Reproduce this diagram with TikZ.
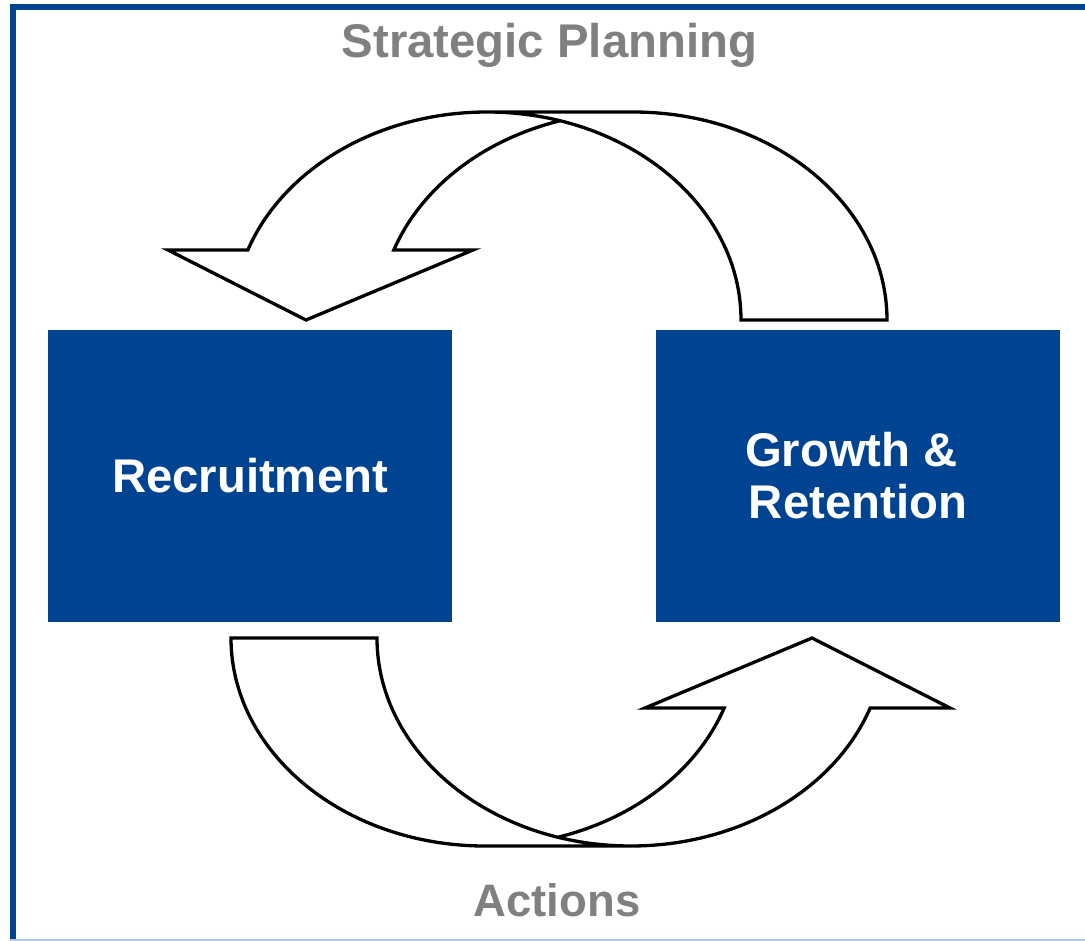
\documentclass[tikz,border=0pt]{standalone}
\usepackage{fontspec}
\setmainfont{Liberation Sans}
\usetikzlibrary{calc}
\definecolor{boxblue}{RGB}{0,68,145}
\definecolor{capgray}{RGB}{128,128,128}
\definecolor{lightline}{RGB}{180,200,228}
\newcommand\cyclearrowpath{%
  ($(633,320)+(253.3:254 and 208)$)
  arc[start angle=253.3, end angle=199.666, x radius=254, y radius=208]
  -- (473,250) -- (306,320) -- (168,250)
  -- ($(487,320)+(199.666:254 and 208)$)
  arc[start angle=199.666, end angle=270, x radius=254, y radius=208]
  -- (633,112)
  arc[start angle=270, end angle=360, x radius=254, y radius=208]
  -- (741,320)
  arc[start angle=0, end angle=-90, x radius=254, y radius=208]}
\begin{document}
\begin{tikzpicture}[x=1pt,y=-1pt,
  box/.style={fill=boxblue, draw=none, minimum width=404pt, minimum height=292pt,
    inner sep=0pt, text=white, align=center,
    font=\bfseries\fontsize{47.3}{52}\selectfont},
  title/.style={text=capgray, anchor=base, inner sep=0pt,
    font=\bfseries\fontsize{47.3}{52}\selectfont},
  bigarrow/.style={draw=black, line width=3.3pt, line join=miter}]
\useasboundingbox (0,0) rectangle (1085,941);
% frame
\draw[boxblue, line width=6pt, line join=miter] (12.5,941) -- (12.5,7.5) -- (1085,7.5);
\draw[lightline, line width=1.5pt] (9.5,940.2) -- (1085,940.2);
% titles
\node[title] (sp) at (549.5,58) {Strategic Planning};
\node[title, font=\bfseries\fontsize{45.5}{50}\selectfont] (act) at (557,916) {Actions};
% boxes
\node[box] (rec) at (250,476) {Recruitment};
\node[box] (gro) at (858,476) {Growth \&\hspace*{13pt}\\Retention};
% curved arrows
\path[bigarrow] \cyclearrowpath;
\begin{scope}[rotate around={180:(559,479)}]
  \path[bigarrow] \cyclearrowpath;
\end{scope}
\end{tikzpicture}
\end{document}
